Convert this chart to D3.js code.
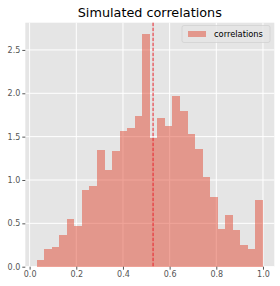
<!DOCTYPE html>
<html>
<head>
<meta charset="utf-8">
<script src="https://cdn.jsdelivr.net/npm/d3@7"></script>
<style>
  html, body { margin: 0; padding: 0; background: #fff; }
  svg { display: block; font-family: 'DejaVu Sans', sans-serif; }
</style>
</head>
<body>
<script>
// Histogram of simulated correlations (density), 30 equal bins
const binStart = 0.03
const binEnd = 1.0
const densities = [
  0.08, 0.20, 0.23, 0.36, 0.55, 0.47, 0.88, 0.93, 1.35, 1.12,
  1.33, 1.57, 1.60, 1.74, 2.68, 1.48, 1.72, 1.62, 1.97, 1.80,
  1.53, 1.36, 1.03, 0.80, 0.44, 0.60, 0.42, 0.25, 0.20, 0.77
]
const meanValue = 0.529
const xTicks = [0, 0.2, 0.4, 0.6, 0.8, 1.0]
const yTicks = [0, 0.5, 1.0, 1.5, 2.0, 2.5]
const title = 'Simulated correlations'
const seriesName = 'correlations'

const width = 280
const height = 286
const plot = { left: 25.3, right: 274.3, top: 22.7, bottom: 266.7 }
const barColor = '#E24A33'

// Bins
const binWidth = (binEnd - binStart) / densities.length
const bins = densities.map((d, i) => ({ x0: binStart + i * binWidth, x1: binStart + (i + 1) * binWidth, value: d }))

// Scales, with matplotlib-like 5% x margin and 5% top headroom
const xPad = (binEnd - binStart) * 0.05
const xScale = d3.scaleLinear()
  .domain([binStart - xPad, binEnd + xPad])
  .range([plot.left, plot.right])

const yScale = d3.scaleLinear()
  .domain([0, d3.max(densities) * 1.05])
  .range([plot.bottom, plot.top])

const svg = d3.select('body').append('svg')
  .attr('width', width)
  .attr('height', height)
  .attr('viewBox', [0, 0, width, height].join(' '))

// Axes background
svg.append('rect')
  .attr('x', plot.left)
  .attr('y', plot.top)
  .attr('width', plot.right - plot.left)
  .attr('height', plot.bottom - plot.top)
  .attr('fill', '#E5E5E5')

// Grid
svg.append('g')
  .selectAll('line')
  .data(xTicks)
  .join('line')
  .attr('x1', d => xScale(d))
  .attr('x2', d => xScale(d))
  .attr('y1', plot.top)
  .attr('y2', plot.bottom)
  .attr('stroke', '#fff')
  .attr('stroke-width', 1)

svg.append('g')
  .selectAll('line')
  .data(yTicks)
  .join('line')
  .attr('x1', plot.left)
  .attr('x2', plot.right)
  .attr('y1', d => yScale(d))
  .attr('y2', d => yScale(d))
  .attr('stroke', '#fff')
  .attr('stroke-width', 1)

// Bars (crisp edges so neighbouring bars meet without seams)
svg.append('g')
  .attr('shape-rendering', 'crispEdges')
  .selectAll('rect')
  .data(bins)
  .join('rect')
  .attr('x', d => xScale(d.x0))
  .attr('y', d => yScale(d.value))
  .attr('width', d => xScale(d.x1) - xScale(d.x0))
  .attr('height', d => yScale(0) - yScale(d.value))
  .attr('fill', barColor)
  .attr('fill-opacity', 0.5)

// Mean line
svg.append('line')
  .attr('x1', xScale(meanValue))
  .attr('x2', xScale(meanValue))
  .attr('y1', plot.top)
  .attr('y2', plot.bottom)
  .attr('stroke', '#e8222a')
  .attr('stroke-width', 1)
  .attr('stroke-dasharray', '3.5,1.5')

// Axes
const xAxis = svg.append('g')
  .attr('transform', `translate(0, ${plot.bottom})`)
  .call(d3.axisBottom(xScale).tickValues(xTicks).tickFormat(d3.format('.1f')).tickSize(3).tickPadding(2))

const yAxis = svg.append('g')
  .attr('transform', `translate(${plot.left}, 0)`)
  .call(d3.axisLeft(yScale).tickValues(yTicks).tickFormat(d3.format('.1f')).tickSize(3).tickPadding(2))

;[xAxis, yAxis].forEach(axis => {
  axis.select('.domain').remove()
  axis.selectAll('line').attr('stroke', '#555')
  axis.selectAll('text')
    .attr('fill', '#555')
    .style('font-size', '8px')
    .style('font-family', "'DejaVu Sans', sans-serif")
})

// Title
svg.append('text')
  .attr('x', (plot.left + plot.right) / 2)
  .attr('y', 16.5)
  .attr('text-anchor', 'middle')
  .attr('fill', '#000')
  .style('font-size', '12.8px')
  .text(title)

// Legend
const legend = svg.append('g')
  .attr('transform', 'translate(182, 25.5)')

legend.append('rect')
  .attr('width', 88)
  .attr('height', 17)
  .attr('rx', 2)
  .attr('fill', '#E5E5E5')
  .attr('fill-opacity', 0.8)
  .attr('stroke', '#ccc')
  .attr('stroke-opacity', 0.8)
  .attr('stroke-width', 0.8)

legend.append('rect')
  .attr('x', 6)
  .attr('y', 5.5)
  .attr('width', 18)
  .attr('height', 6)
  .attr('fill', barColor)
  .attr('fill-opacity', 0.5)

legend.append('text')
  .attr('x', 32)
  .attr('y', 11.5)
  .attr('fill', '#000')
  .style('font-size', '8.3px')
  .text(seriesName)
</script>
</body>
</html>
